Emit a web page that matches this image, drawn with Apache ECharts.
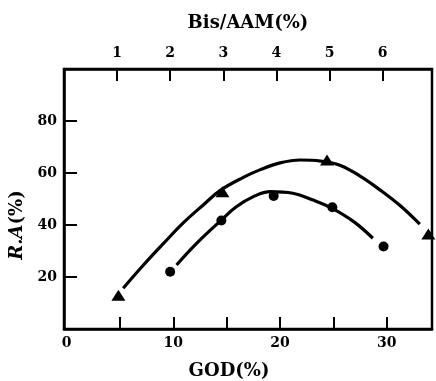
<!DOCTYPE html>
<html><head><meta charset="utf-8">
<script src="https://cdn.jsdelivr.net/npm/echarts@6/dist/echarts.min.js"></script>
<style>html,body{margin:0;padding:0;background:#fff}#c{width:436px;height:381px}</style>
</head><body><div id="c"></div>
<script>
// GOD(%) positions and R.A(%) values of the measured points
const triGOD = [4.85, 14.6, 24.4, 33.9];
const triRA  = [13.0, 52.8, 65.0, 36.5];
const dotGOD = [9.7, 14.5, 19.4, 24.9, 29.7];
const dotRA  = [22.0, 41.7, 51.2, 46.8, 31.7];
// fitted curves
const triCurveGOD = [5.3, 7.2, 9.1, 10.9, 12.8, 14.4, 16.6, 18.1, 20.0, 21.9, 23.8, 25.6, 27.5, 29.4, 31.3, 33.1];
const triCurveRA  = [15.7, 24.6, 33.0, 40.7, 47.7, 53.3, 58.4, 61.2, 63.9, 65.0, 64.6, 63.0, 58.8, 53.4, 47.3, 40.3];
const dotCurveGOD = [10.3, 12.2, 14.5, 15.9, 17.5, 19.1, 21.2, 23.1, 24.8, 26.9, 28.7];
const dotCurveRA  = [24.6, 33.0, 41.9, 47.0, 50.9, 52.8, 52.2, 49.6, 46.6, 41.3, 34.9];
// tick labels
const godLabels = [0, 10, 20, 30];
const godTicks = [5, 10, 15, 20, 25, 30];
const bisTicks = [1, 2, 3, 4, 5, 6];
const raTicks = [20, 40, 60, 80];

const zip = (a, b) => a.map((v, i) => [v, b[i]]);
const F = 'DejaVu Serif';
const lab = {fontFamily: F, fontWeight: 'bold', fontSize: 14, color: '#000'};
const axLine = {show: true, onZero: false, lineStyle: {color: '#000', width: 2.5}};

const chart = echarts.init(document.getElementById('c'));
chart.setOption({
  animation: false,
  grid: {left: 64, right: 4, top: 69, bottom: 52, containLabel: false, outerBoundsMode: 'none',
         show: true, borderColor: '#000', borderWidth: 2.5},
  xAxis: [
    {type: 'value', position: 'bottom', min: -0.25, max: 34.24,
     name: 'GOD(%)', nameLocation: 'middle', nameGap: 33,
     nameTextStyle: {fontFamily: F, fontWeight: 'bold', fontSize: 18, color: '#000', padding: [0, 38, 0, 0]},
     axisLine: axLine, splitLine: {show: false},
     axisTick: {show: true, inside: true, length: 12, customValues: godTicks, lineStyle: {color: '#000', width: 2}},
     axisLabel: {...lab, margin: 7, customValues: godLabels}},
    {type: 'value', position: 'top', min: 0, max: 6.93,
     name: 'Bis/AAM(%)', nameLocation: 'middle', nameGap: 37,
     nameTextStyle: {fontFamily: F, fontWeight: 'bold', fontSize: 18, color: '#000'},
     axisLine: axLine, splitLine: {show: false},
     axisTick: {show: true, inside: true, length: 12, customValues: bisTicks, lineStyle: {color: '#000', width: 2}},
     axisLabel: {...lab, margin: 9, customValues: bisTicks}}
  ],
  yAxis: {type: 'value', min: 0, max: 100,
    name: '{i|R.A}{n|(%)}', nameLocation: 'middle', nameGap: 38,
    nameTextStyle: {padding: [0, 0, 0, -52],
      rich: {i: {fontFamily: F, fontWeight: 'bold', fontStyle: 'italic', fontSize: 18, color: '#000'},
             n: {fontFamily: F, fontWeight: 'bold', fontSize: 18, color: '#000'}}},
    axisLine: axLine, splitLine: {show: false},
    axisTick: {show: true, inside: true, length: 13, customValues: raTicks, lineStyle: {color: '#000', width: 2}},
    axisLabel: {...lab, margin: 7, customValues: raTicks}},
  series: [
    {type: 'line', smooth: 0.4, showSymbol: false, data: zip(triCurveGOD, triCurveRA),
     lineStyle: {color: '#000', width: 3.2}, z: 2},
    {type: 'line', smooth: 0.4, showSymbol: false, data: zip(dotCurveGOD, dotCurveRA),
     lineStyle: {color: '#000', width: 3.2}, z: 2},
    {type: 'scatter', symbol: 'triangle', symbolSize: [14, 11], data: zip(triGOD, triRA),
     itemStyle: {color: '#000', opacity: 1}, z: 3},
    {type: 'scatter', symbol: 'circle', symbolSize: 10, data: zip(dotGOD, dotRA),
     itemStyle: {color: '#000', opacity: 1}, z: 3}
  ]
});
</script></body></html>
